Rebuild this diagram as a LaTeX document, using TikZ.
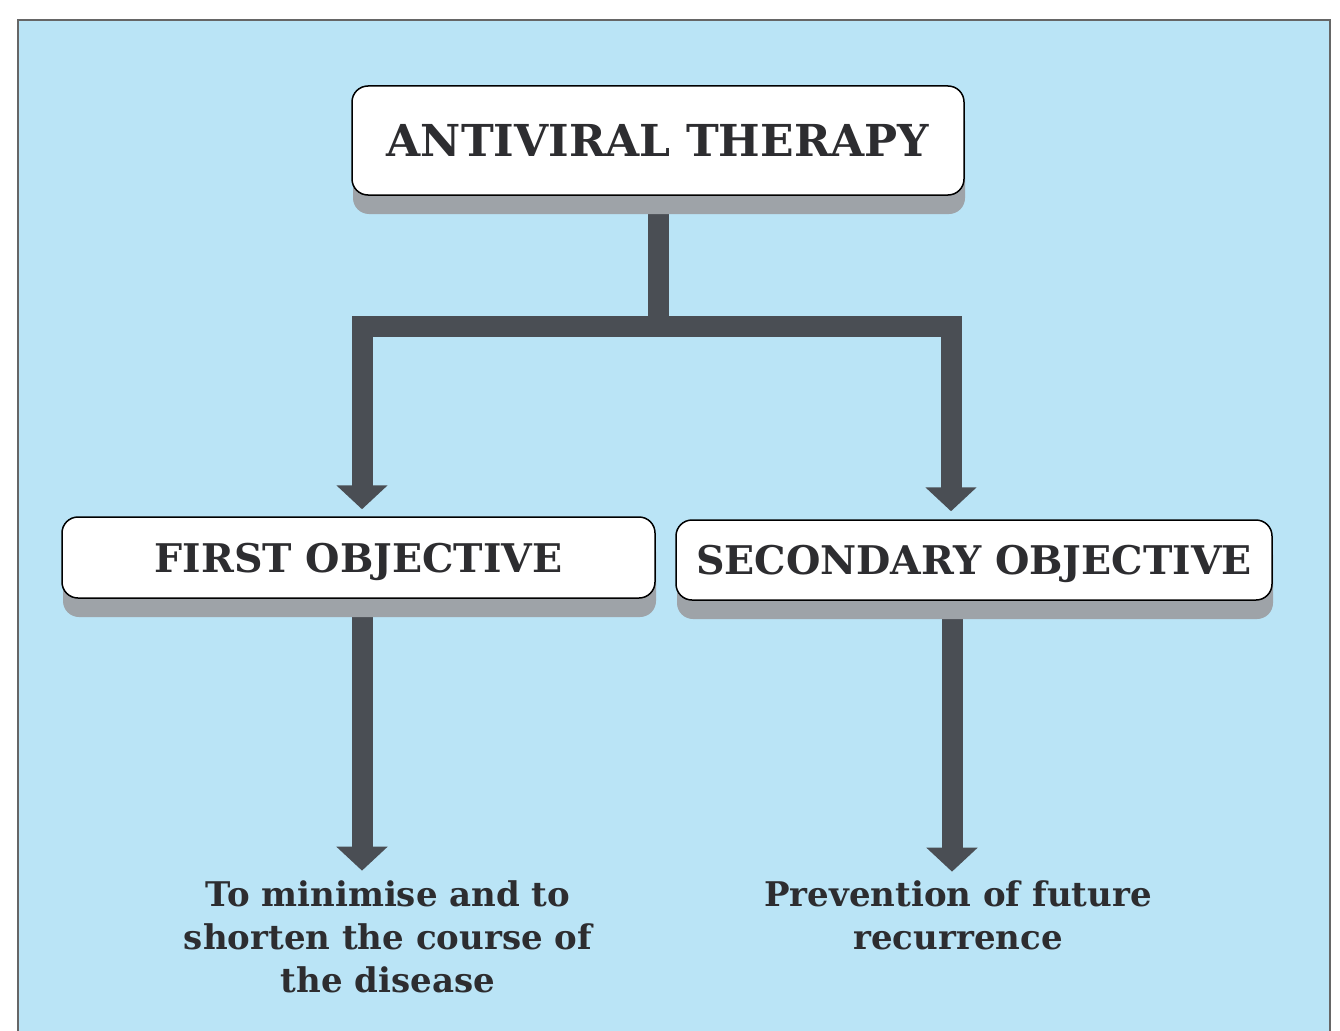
\documentclass[tikz,border=0pt]{standalone}
\usepackage{fontspec}
\setmainfont{DejaVu Serif}
\usetikzlibrary{arrows.meta,shadows,calc}
\definecolor{panelblue}{RGB}{186,228,246}
\definecolor{arrowgray}{RGB}{74,78,84}
\definecolor{shadowgray}{RGB}{158,163,168}
\definecolor{textgray}{RGB}{45,45,48}
\pgfdeclarelayer{panel}
\pgfdeclarelayer{conn}
\pgfsetlayers{panel,conn,main}
\tikzset{
  titlebox/.style={draw=black, line width=1.5pt, fill=white, rounded corners=16pt,
    text=textgray, font=\bfseries\fontsize{44}{50}\selectfont,
    drop shadow={shadow xshift=1pt, shadow yshift=-19pt, fill=shadowgray, opacity=1}},
  objbox/.style={titlebox, font=\bfseries\fontsize{39.5}{44}\selectfont, text depth=0pt},
  resulttext/.style={align=center, text=textgray, font=\bfseries\fontsize{34}{43}\selectfont, inner sep=4pt},
  conn/.style={draw=arrowgray, line width=21pt, line join=miter,
    -{Triangle[width=50pt,length=24pt]}}
}
\begin{document}
\begin{tikzpicture}[x=1pt,y=-1pt]
\useasboundingbox (0,0) rectangle (1340,1030);
\begin{pgfonlayer}{panel}
  \fill[white] (0,0) rectangle (1340,1030);
  \filldraw[fill=panelblue, draw=gray!80!black, line width=1.2pt] (18,1040) -- (18,20) -- (1330,20) -- (1330,1040);
\end{pgfonlayer}
\node[titlebox, minimum width=612pt, minimum height=109pt] (top) at (658,140.5) {ANTIVIRAL THERAPY};
\node[objbox, minimum width=593pt, minimum height=81pt] (first) at (358.5,557.5) {FIRST OBJECTIVE};
\node[objbox, minimum width=596pt, minimum height=80pt] (second) at (974,560) {SECONDARY OBJECTIVE};
\node[resulttext] (r1) at (388,937) {To minimise and to\\shorten the course of\\the disease};
\node[resulttext] (r2) at (958,915.5) {Prevention of future\\recurrence};
\begin{pgfonlayer}{conn}
  \draw[conn, shorten >=7pt] (top.south) -- ++(0,131) -| ([xshift=3.5pt]first.north);
  \draw[conn, shorten >=8pt] (top.south) -- ++(0,131) -| ([xshift=-23pt]second.north);
  \draw[conn, shorten >=6pt] ([xshift=3.5pt]first.south) -- ([xshift=3.5pt]first.south |- r1.north);
  \draw[conn, shorten >=5pt] ([xshift=-22pt]second.south) -- ([xshift=-22pt]second.south |- r2.north);
\end{pgfonlayer}
\end{tikzpicture}
\end{document}
